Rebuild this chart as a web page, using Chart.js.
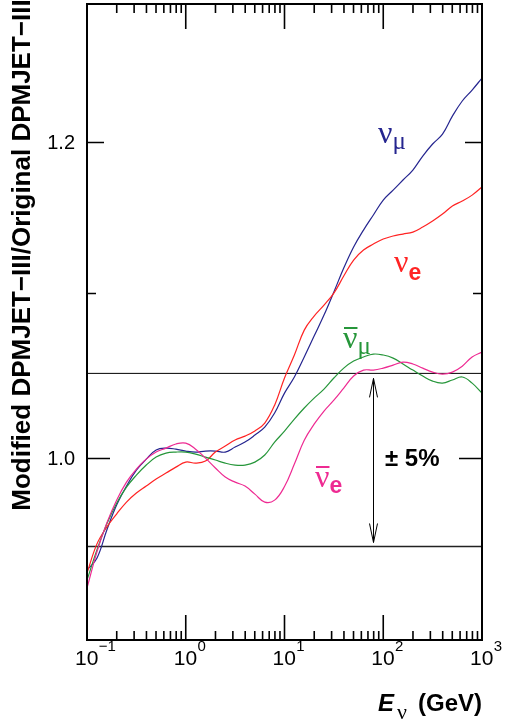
<!DOCTYPE html>
<html>
<head>
<meta charset="utf-8">
<script src="https://cdn.jsdelivr.net/npm/chart.js@4.4.1/dist/chart.umd.min.js"></script>
<style>
  html, body { margin: 0; padding: 0; background: #fff; }
  #wrap { width: 511px; height: 723px; position: relative; }
</style>
</head>
<body>
<div id="wrap"><canvas id="c" width="511" height="723"></canvas></div>
<script>
// Neutrino energy grid (GeV)
const energies = [0.1, 0.1259, 0.1585, 0.1995, 0.2512, 0.3162, 0.3981, 0.5012, 0.6310, 0.7943,
  1, 1.259, 1.585, 1.995, 2.512, 3.162, 3.981, 5.012, 6.310, 7.943,
  10, 12.59, 15.85, 19.95, 25.12, 31.62, 39.81, 50.12, 63.10, 79.43,
  100, 125.9, 158.5, 199.5, 251.2, 316.2, 398.1, 501.2, 631.0, 794.3, 1000];

// Ratio Modified / Original for each flavour
const numu = [0.9371, 0.9436, 0.9590, 0.9730, 0.9838, 0.9929, 0.9992, 1.0045, 1.0056, 1.0050,
  1.0039, 1.0033, 1.0039, 1.0039, 1.0033, 1.0062, 1.0091, 1.0132, 1.0179, 1.0262,
  1.0381, 1.0478, 1.0600, 1.0729, 1.0860, 1.1006, 1.1159, 1.1296, 1.1407, 1.1507,
  1.1607, 1.1674, 1.1742, 1.1810, 1.1906, 1.1989, 1.2058, 1.2184, 1.2291, 1.2369, 1.2455];
const nue = [0.9355, 0.9513, 0.9607, 0.9680, 0.9747, 0.9798, 0.9838, 0.9878, 0.9912, 0.9946,
  0.9975, 0.9969, 0.9981, 1.0033, 1.0068, 1.0103, 1.0126, 1.0156, 1.0203, 1.0309,
  1.0472, 1.0612, 1.0766, 1.0854, 1.0923, 1.0999, 1.1108, 1.1211, 1.1276, 1.1315,
  1.1348, 1.1368, 1.1381, 1.1394, 1.1427, 1.1467, 1.1513, 1.1567, 1.1600, 1.1640, 1.1695];
const anumu = [0.9317, 0.9480, 0.9624, 0.9741, 0.9832, 0.9900, 0.9958, 1.0004, 1.0027, 1.0033,
  1.0033, 1.0021, 1.0004, 0.9987, 0.9969, 0.9958, 0.9958, 0.9975, 1.0016, 1.0091,
  1.0155, 1.0226, 1.0292, 1.0351, 1.0405, 1.0472, 1.0532, 1.0575, 1.0600, 1.0618,
  1.0612, 1.0593, 1.0557, 1.0520, 1.0484, 1.0453, 1.0441, 1.0460, 1.0478, 1.0441, 1.0381];
const anue = [0.9274, 0.9469, 0.9629, 0.9758, 0.9860, 0.9935, 0.9992, 1.0033, 1.0056, 1.0080,
  1.0085, 1.0050, 0.9998, 0.9941, 0.9889, 0.9860, 0.9838, 0.9792, 0.9747, 0.9758,
  0.9835, 0.9964, 1.0102, 1.0196, 1.0274, 1.0339, 1.0411, 1.0484, 1.0520, 1.0520,
  1.0532, 1.0550, 1.0569, 1.0557, 1.0532, 1.0508, 1.0496, 1.0508, 1.0544, 1.0600, 1.0630];

// Band lines (±5%)
const bandUpper = 1.05;
const bandLower = 0.95;
const arrowEnergy = 79;

// Axes
const xMin = 0.1, xMax = 1000;
const yMin = 0.9, yMax = 1.3;
const xDecades = [0.1, 1, 10, 100, 1000];
const xExponents = ['\u22121', '0', '1', '2', '3'];
const yMajorTicks = [1.0, 1.2];
const yMajorLabels = ['1.0', '1.2'];
const yMinorTicks = [1.1];

const COL_NUMU = '#25258f';
const COL_NUE = '#ff2323';
const COL_ANUMU = '#26963a';
const COL_ANUE = '#ee2a92';

function pts(ys) { return energies.map((e, i) => ({ x: e, y: ys[i] })); }

const overlay = {
  id: 'overlay',
  afterDraw(chart) {
    const ctx = chart.ctx, xs = chart.scales.x, ys = chart.scales.y, a = chart.chartArea;
    ctx.save();
    // arrow
    const ax = Math.round(xs.getPixelForValue(arrowEnergy)) + 0.5;
    const ayTop = ys.getPixelForValue(bandUpper) + 5;
    const ayBot = ys.getPixelForValue(bandLower) - 4;
    ctx.strokeStyle = '#000'; ctx.lineWidth = 1;
    ctx.beginPath(); ctx.moveTo(ax, ayTop); ctx.lineTo(ax, ayBot); ctx.stroke();
    ctx.beginPath();
    ctx.moveTo(ax - 4, ayTop + 19); ctx.lineTo(ax, ayTop); ctx.lineTo(ax + 4, ayTop + 19);
    ctx.moveTo(ax - 4, ayBot - 19); ctx.lineTo(ax, ayBot); ctx.lineTo(ax + 4, ayBot - 19);
    ctx.stroke();

    // frame
    ctx.strokeStyle = '#000'; ctx.lineWidth = 2;
    ctx.strokeRect(a.left, a.top, a.right - a.left, a.bottom - a.top);
    ctx.lineWidth = 1.6;
    // x ticks
    ctx.beginPath();
    xDecades.forEach((d, i) => {
      const px = xs.getPixelForValue(d);
      ctx.moveTo(px, a.bottom); ctx.lineTo(px, a.bottom - 25);
      ctx.moveTo(px, a.top); ctx.lineTo(px, a.top + 25);
      if (i < xDecades.length - 1) {
        for (let m = 2; m <= 9; m++) {
          const p = xs.getPixelForValue(d * m);
          ctx.moveTo(p, a.bottom); ctx.lineTo(p, a.bottom - 9);
          ctx.moveTo(p, a.top); ctx.lineTo(p, a.top + 9);
        }
      }
    });
    ctx.stroke();
    // y ticks
    ctx.beginPath();
    yMajorTicks.forEach((v, i) => {
      const py = Math.round(ys.getPixelForValue(v)) + 0.5;
      const len = i === 0 ? 23 : 17;
      ctx.moveTo(a.left, py); ctx.lineTo(a.left + len, py);
      ctx.moveTo(a.right, py); ctx.lineTo(a.right - len, py);
    });
    yMinorTicks.forEach(v => {
      const py = Math.round(ys.getPixelForValue(v)) + 0.5;
      ctx.moveTo(a.left, py); ctx.lineTo(a.left + 9, py);
      ctx.moveTo(a.right, py); ctx.lineTo(a.right - 9, py);
    });
    ctx.stroke();

    // tick labels
    ctx.fillStyle = '#000';
    ctx.font = '20px "Liberation Sans", Arial, sans-serif';
    ctx.textAlign = 'right'; ctx.textBaseline = 'alphabetic';
    yMajorTicks.forEach((v, i) => {
      ctx.fillText(yMajorLabels[i], 75, ys.getPixelForValue(v) + 7);
    });
    ctx.textAlign = 'left';
    xDecades.forEach((d, i) => {
      const px = xs.getPixelForValue(d);
      ctx.font = '21px "Liberation Sans", Arial, sans-serif';
      ctx.fillText('10', px - 12, 665);
      const w = ctx.measureText('10').width;
      ctx.font = '15px "Liberation Sans", Arial, sans-serif';
      ctx.fillText(xExponents[i], px - 12 + w + 0.5, 651);
    });

    // axis titles
    ctx.save();
    ctx.translate(30, 255);
    ctx.rotate(-Math.PI / 2);
    ctx.textAlign = 'center';
    ctx.font = 'bold 26px "Liberation Sans", Arial, sans-serif';
    ctx.fillText('Modified DPMJET\u2212III/Original DPMJET\u2212III', 0, 0);
    ctx.restore();

    ctx.textAlign = 'left';
    ctx.font = 'bold 24px "Liberation Sans", Arial, sans-serif';
    ctx.fillText('(GeV)', 418, 711);
    ctx.font = 'bold italic 24px "Liberation Sans", Arial, sans-serif';
    ctx.fillText('E', 378, 711);
    ctx.font = '22px "Liberation Serif", serif';
    ctx.fillText('\u03BD', 397, 719);

    // ± 5%
    ctx.font = 'bold 24px "Liberation Sans", Arial, sans-serif';
    ctx.fillText('\u00B1 5%', 385, 466);

    // curve labels
    function nuLabel(x, y, col, bar, sub, subSerif, subDy) {
      ctx.fillStyle = col; ctx.strokeStyle = col;
      ctx.font = '32px "Liberation Serif", serif';
      ctx.textAlign = 'left';
      ctx.fillText('\u03BD', x, y);
      const w = ctx.measureText('\u03BD').width;
      if (bar) {
        ctx.lineWidth = 2;
        ctx.beginPath(); ctx.moveTo(x + 1, y - 20); ctx.lineTo(x + w, y - 20); ctx.stroke();
      }
      ctx.font = subSerif ? '25px "Liberation Serif", serif' : 'bold 23px "Liberation Sans", Arial, sans-serif';
      ctx.fillText(sub, x + w, y + subDy);
    }
    nuLabel(378, 143, COL_NUMU, false, '\u03BC', true, 6);
    nuLabel(394, 272, COL_NUE, false, 'e', false, 8);
    nuLabel(343, 348, COL_ANUMU, true, '\u03BC', true, 6);
    nuLabel(315, 487, COL_ANUE, true, 'e', false, 6);

    ctx.restore();
  }
};

const lineDs = (label, data, color, order, width) => ({
  label, data, borderColor: color, borderWidth: width || 1.2, pointRadius: 0,
  fill: false, tension: 0.4, order
});

new Chart(document.getElementById('c'), {
  type: 'line',
  data: {
    datasets: [
      lineDs('anue', pts(anue), COL_ANUE, 1),
      lineDs('anumu', pts(anumu), COL_ANUMU, 2),
      lineDs('nue', pts(nue), COL_NUE, 3),
      lineDs('numu', pts(numu), COL_NUMU, 4),
      { label: '+5%', data: [{ x: xMin, y: bandUpper }, { x: xMax, y: bandUpper }], borderColor: '#000', borderWidth: 1, pointRadius: 0, order: 5 },
      { label: '-5%', data: [{ x: xMin, y: bandLower }, { x: xMax, y: bandLower }], borderColor: '#222', borderWidth: 1.3, pointRadius: 0, order: 5 }
    ]
  },
  options: {
    responsive: false,
    animation: false,
    devicePixelRatio: 1,
    layout: { padding: { left: 87, top: 4, right: 29, bottom: 83 } },
    plugins: { legend: { display: false }, tooltip: { enabled: false } },
    scales: {
      x: { type: 'logarithmic', min: xMin, max: xMax, display: false },
      y: { type: 'logarithmic', min: yMin, max: yMax, display: false }
    }
  },
  plugins: [overlay]
});
</script>
</body>
</html>
